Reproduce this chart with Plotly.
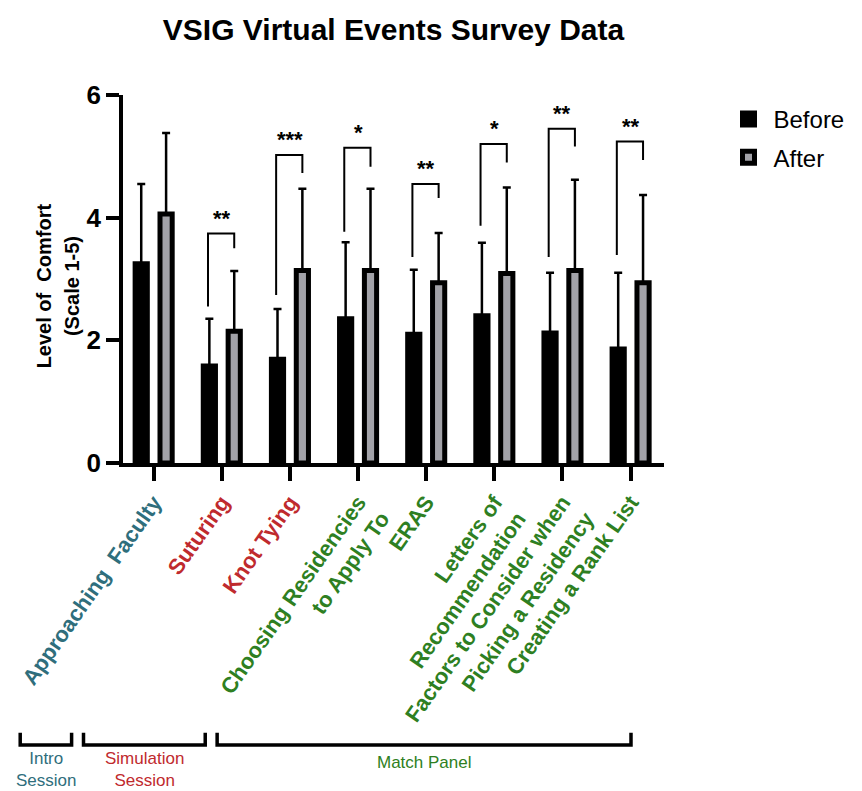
import plotly.graph_objects as go

# ---------------- data ----------------
categories = [
    "Approaching  Faculty",
    "Suturing",
    "Knot Tying",
    "Choosing Residencies<br>to Apply To",
    "ERAS",
    "Letters of<br>Recommendation",
    "Factors to Consider when<br>Picking a Residency",
    "Creating a Rank List",
]
category_session = ["intro", "sim", "sim", "match", "match", "match", "match", "match"]

before_mean = [3.25, 1.58, 1.69, 2.35, 2.10, 2.40, 2.12, 1.86]
before_sd = [1.30, 0.77, 0.82, 1.25, 1.05, 1.19, 0.98, 1.24]
after_mean = [4.06, 2.15, 3.14, 3.14, 2.94, 3.09, 3.14, 2.94]
after_sd = [1.32, 0.98, 1.33, 1.33, 0.81, 1.40, 1.48, 1.43]

# significance comparisons (category index, label, bracket top, left leg end, right leg end)
sig_index = [1, 2, 3, 4, 5, 6, 7]
sig_label = ["**", "***", "*", "**", "*", "**", "**"]
sig_top = [3.74, 5.02, 5.14, 4.55, 5.20, 5.45, 5.24]
sig_left_end = [2.55, 2.74, 3.77, 3.36, 3.87, 3.36, 3.39]
sig_right_end = [3.50, 4.73, 4.83, 4.32, 4.90, 5.16, 4.94]

session_keys = ["intro", "sim", "match"]
session_names = ["Intro<br>Session", "Simulation<br>Session", "Match Panel"]

y_ticks = [0, 2, 4, 6]
y_title_lines = ["Level of  Comfort", "(Scale 1-5)"]

# ---------------- styles ----------------
session_color = {"intro": "#2F6E7C", "sim": "#BF2A2E", "match": "#2E7F22"}
FONT = "Arial, Liberation Sans, Helvetica, sans-serif"
BARGAP = 0.27
BARGROUPGAP = 0.51
bar_offset = (1 - BARGAP) / 4

x_idx = list(range(len(categories)))


def colored(label, color):
    return "<br>".join(
        f"<span style='color:{color}'>{part}</span>" for part in label.split("<br>")
    )


ticktext = [colored(c, session_color[s]) for c, s in zip(categories, category_session)]

fig = go.Figure()

fig.add_trace(go.Bar(
    name="Before", x=x_idx, y=before_mean, legendgroup="before",
    marker=dict(color="black", line=dict(color="black", width=5)),
    error_y=dict(type="data", symmetric=False, array=before_sd,
                 arrayminus=[0] * len(before_sd),
                 color="black", thickness=2.5, width=4),
))
fig.add_trace(go.Bar(
    name="After", x=x_idx, y=after_mean, legendgroup="after",
    marker=dict(color="#A2A2A8", line=dict(color="black", width=5)),
    error_y=dict(type="data", symmetric=False, array=after_sd,
                 arrayminus=[0] * len(after_sd),
                 color="black", thickness=2.5, width=4),
))

# significance brackets
for i, lab, top, le, re in zip(sig_index, sig_label, sig_top, sig_left_end, sig_right_end):
    xl = i - bar_offset - 0.02
    xr = i + bar_offset
    fig.add_trace(go.Scatter(
        x=[xl, xl, xr, xr], y=[le, top, top, re], mode="lines",
        line=dict(color="black", width=2), showlegend=False, hoverinfo="skip",
    ))
    fig.add_annotation(
        x=i, y=top, text=lab, showarrow=False, xref="x", yref="y",
        yanchor="bottom", yshift=1,
        font=dict(family=FONT, size=22, color="black", weight="bold"),
    )

# session brackets below the axis (paper coordinates)
session_spans = [(-0.19, -0.095), (-0.073, 0.152), (0.174, 0.939)]
y_leg_top, y_leg_bot = -0.733, -0.766
for (x0, x1), key, name in zip(session_spans, session_keys, session_names):
    fig.add_shape(
        type="path", xref="paper", yref="paper",
        path=f"M {x0} {y_leg_top} L {x0} {y_leg_bot} L {x1} {y_leg_bot} L {x1} {y_leg_top}",
        line=dict(color="black", width=3.5),
    )
    two_line = "<br>" in name
    fig.add_annotation(
        x=(x0 + x1) / 2, xref="paper", yref="paper",
        y=-0.891 if two_line else -0.8125,
        yanchor="bottom" if two_line else "middle",
        text=name, showarrow=False, xanchor="center", align="center", borderpad=0,
        font=dict(family=FONT, size=17, color=session_color[key]),
    )

# y-axis title as two rotated lines
for txt, xx in zip(y_title_lines, [-0.146, -0.093]):
    fig.add_annotation(
        x=xx, y=0.48, xref="paper", yref="paper", text=f"<b>{txt}</b>",
        textangle=-90, showarrow=False, xanchor="center", yanchor="middle",
        font=dict(family=FONT, size=20, color="black"),
    )

# page body has an 8px margin: figure is sized so it ends at the window edge
fig.update_layout(
    width=854, height=783,
    paper_bgcolor="white", plot_bgcolor="white",
    margin=dict(l=115, r=180, t=87, b=328),
    barmode="group", bargap=BARGAP, bargroupgap=BARGROUPGAP,
    title=dict(text="<b>VSIG Virtual Events Survey Data</b>", x=0.5, xref="paper",
               y=0.972, yanchor="middle",
               font=dict(family=FONT, size=30, color="black")),
    font=dict(family=FONT, color="black"),
    legend=dict(x=1.11, y=0.995, xanchor="left", yanchor="top",
                font=dict(family=FONT, size=24, color="black"),
                bgcolor="rgba(0,0,0,0)", itemwidth=40,
                traceorder="grouped", tracegroupgap=4),
    showlegend=True,
)

fig.update_xaxes(
    range=[-0.45, 7.49], tickmode="array", tickvals=x_idx, ticktext=ticktext,
    tickangle=-55, showline=True, linecolor="black", linewidth=3.5,
    ticks="outside", ticklen=14, tickwidth=3.5, tickcolor="black",
    showgrid=False, zeroline=False, automargin=False, ticklabeloverflow="allow",
    tickfont=dict(family=FONT, size=22, weight="bold"),
)
fig.update_yaxes(
    range=[0, 6], tickmode="array", tickvals=y_ticks,
    showline=True, linecolor="black", linewidth=3.5,
    ticks="outside", ticklen=13, tickwidth=3.5, tickcolor="black",
    showgrid=False, zeroline=False, automargin=False,
    tickfont=dict(family=FONT, size=26, weight="bold", color="black"),
)

fig.write_html("out.html")
